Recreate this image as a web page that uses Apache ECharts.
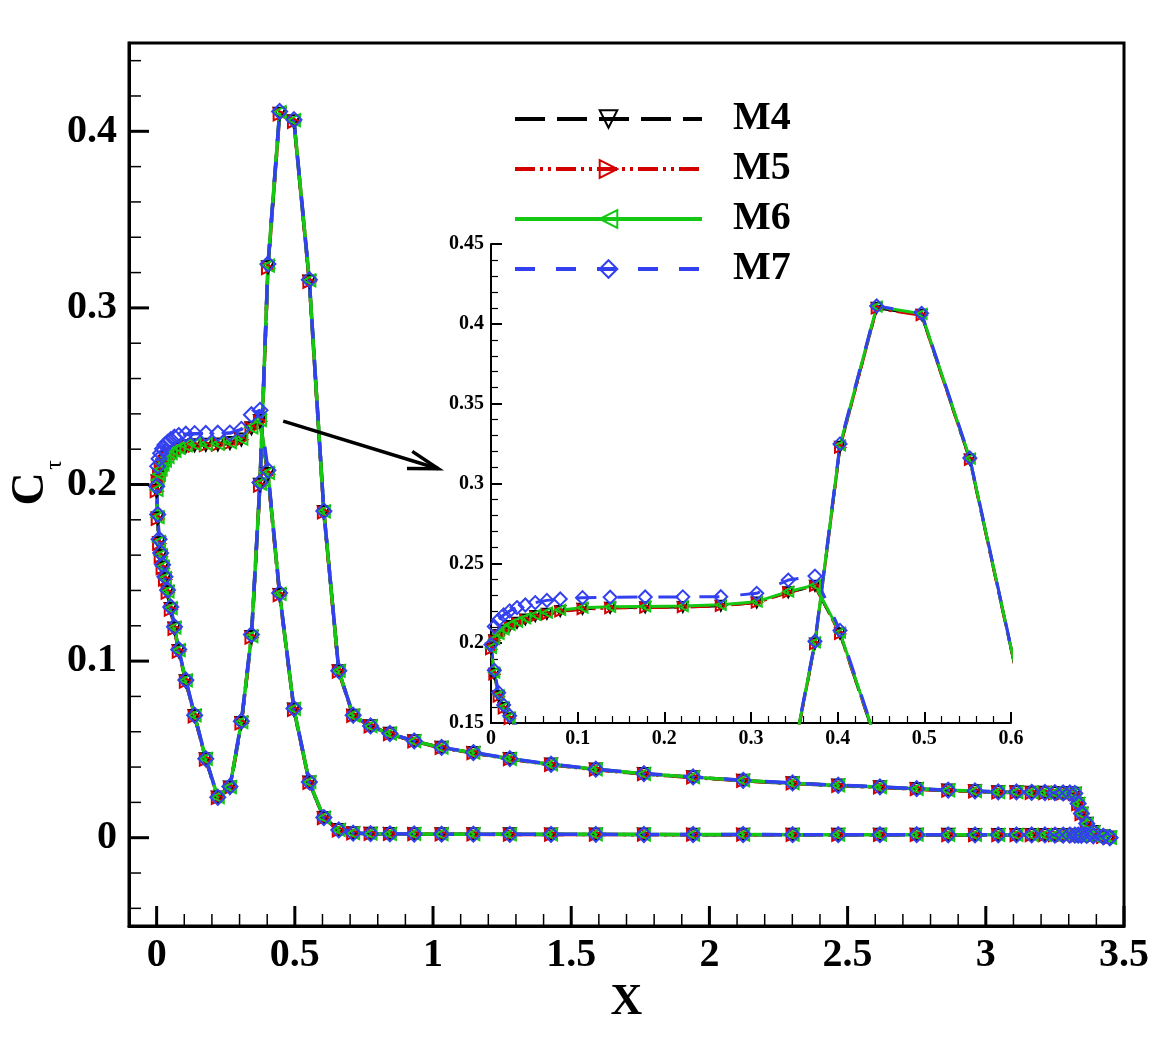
<!DOCTYPE html>
<html>
<head>
<meta charset="utf-8">
<title>C_tau vs X</title>
<script src="https://cdn.jsdelivr.net/npm/echarts@6/dist/echarts.min.js"></script>
<style>
  html, body { margin: 0; padding: 0; background: #fff; }
  #chart { width: 1171px; height: 1041px; }
</style>
</head>
<body>
<div id="chart"></div>
<script>
// stations along the surface (x), shared by both branches
const xStation = [0, 0.0038, 0.0088, 0.0146, 0.0215, 0.030, 0.0396, 0.0511, 0.0645, 0.0799, 0.1056, 0.1375, 0.1779, 0.2213, 0.2651, 0.3066, 0.343, 0.3738, 0.4027, 0.445, 0.4968, 0.5525, 0.605, 0.659, 0.711, 0.774, 0.844, 0.932, 1.031, 1.146, 1.278, 1.427, 1.589, 1.763, 1.941, 2.122, 2.301, 2.466, 2.617, 2.75, 2.864, 2.961, 3.045, 3.111, 3.166, 3.214, 3.25, 3.28, 3.304, 3.322, 3.334, 3.346, 3.365, 3.389, 3.425, 3.449]

// branch A: plateau, then falls to ~0
const m4A = [0.1965, 0.2018, 0.2051, 0.2080, 0.2107, 0.2128, 0.2149, 0.2170, 0.2184, 0.2201, 0.2216, 0.2222, 0.2225, 0.2227, 0.2235, 0.2255, 0.2319, 0.2359, 0.2060, 0.1375, 0.0726, 0.0312, 0.0112, 0.0043, 0.0025, 0.0022, 0.0021, 0.0020, 0.0020, 0.0019, 0.0019, 0.0018, 0.0018, 0.0018, 0.0017, 0.0017, 0.0017, 0.0016, 0.0016, 0.0016, 0.0016, 0.0015, 0.0015, 0.0015, 0.0015, 0.0015, 0.0015, 0.0014, 0.0014, 0.0014, 0.0014, 0.0013, 0.0012, 0.0010, 0.0006, 0.0]
const m5A = [0.1962, 0.2015, 0.2048, 0.2077, 0.2104, 0.2125, 0.2146, 0.2167, 0.2181, 0.2199, 0.2213, 0.2220, 0.2223, 0.2226, 0.2234, 0.2254, 0.2318, 0.2358, 0.2058, 0.1373, 0.0724, 0.0310, 0.0111, 0.0042, 0.0025, 0.0022, 0.0021, 0.0020, 0.0019, 0.0019, 0.0018, 0.0018, 0.0018, 0.0017, 0.0017, 0.0017, 0.0016, 0.0016, 0.0016, 0.0016, 0.0015, 0.0015, 0.0015, 0.0015, 0.0015, 0.0015, 0.0014, 0.0014, 0.0014, 0.0014, 0.0014, 0.0013, 0.0012, 0.0010, 0.0006, 0.0]
const m6A = [0.1970, 0.2025, 0.2058, 0.2087, 0.2114, 0.2135, 0.2156, 0.2177, 0.2191, 0.2208, 0.2222, 0.2228, 0.2230, 0.2232, 0.2240, 0.2260, 0.2323, 0.2364, 0.2066, 0.1380, 0.0730, 0.0315, 0.0114, 0.0044, 0.0026, 0.0023, 0.0022, 0.0021, 0.0020, 0.0020, 0.0019, 0.0019, 0.0019, 0.0018, 0.0018, 0.0018, 0.0017, 0.0017, 0.0017, 0.0017, 0.0016, 0.0016, 0.0016, 0.0016, 0.0016, 0.0016, 0.0015, 0.0015, 0.0015, 0.0015, 0.0015, 0.0014, 0.0013, 0.0011, 0.0007, 0.0]
const m7A = [0.1990, 0.2104, 0.2146, 0.2177, 0.2202, 0.2223, 0.2239, 0.2254, 0.2268, 0.2277, 0.2285, 0.2288, 0.2289, 0.2290, 0.2291, 0.2312, 0.2395, 0.2420, 0.2080, 0.1385, 0.0732, 0.0316, 0.0114, 0.0044, 0.0026, 0.0023, 0.0022, 0.0021, 0.0020, 0.0020, 0.0019, 0.0019, 0.0019, 0.0018, 0.0018, 0.0018, 0.0017, 0.0017, 0.0017, 0.0017, 0.0016, 0.0016, 0.0016, 0.0016, 0.0016, 0.0016, 0.0015, 0.0015, 0.0015, 0.0015, 0.0015, 0.0014, 0.0013, 0.0011, 0.0007, 0.0]

// branch B: dip, peak, long decay
const m4B = [0.1965, 0.1808, 0.1668, 0.1594, 0.1529, 0.1465, 0.1390, 0.1295, 0.1185, 0.1057, 0.0886, 0.0689, 0.0444, 0.0228, 0.0284, 0.0650, 0.1136, 0.1998, 0.3230, 0.4100, 0.4057, 0.3150, 0.1844, 0.0943, 0.0691, 0.0631, 0.0588, 0.0546, 0.0509, 0.0480, 0.0446, 0.0414, 0.0386, 0.0361, 0.0342, 0.0323, 0.0308, 0.0295, 0.0286, 0.0276, 0.0267, 0.0263, 0.0257, 0.0257, 0.0255, 0.0254, 0.0253, 0.0252, 0.0251, 0.0249, 0.0191, 0.0135, 0.0079, 0.0032, 0.0007, 0.0]
const m5B = [0.1962, 0.1805, 0.1665, 0.1591, 0.1526, 0.1462, 0.1387, 0.1292, 0.1182, 0.1054, 0.0884, 0.0687, 0.0442, 0.0226, 0.0282, 0.0647, 0.1133, 0.1994, 0.3225, 0.4096, 0.4054, 0.3148, 0.1842, 0.0941, 0.0690, 0.0630, 0.0587, 0.0545, 0.0508, 0.0479, 0.0445, 0.0413, 0.0385, 0.0360, 0.0341, 0.0322, 0.0307, 0.0294, 0.0285, 0.0275, 0.0266, 0.0262, 0.0256, 0.0256, 0.0254, 0.0253, 0.0252, 0.0251, 0.0250, 0.0248, 0.0190, 0.0134, 0.0078, 0.0031, 0.0006, 0.0]
const m6B = [0.1970, 0.1815, 0.1675, 0.1600, 0.1535, 0.1470, 0.1395, 0.1300, 0.1190, 0.1062, 0.0891, 0.0693, 0.0447, 0.0230, 0.0287, 0.0655, 0.1142, 0.2005, 0.3239, 0.4108, 0.4063, 0.3156, 0.1848, 0.0945, 0.0693, 0.0632, 0.0589, 0.0547, 0.0510, 0.0481, 0.0447, 0.0415, 0.0387, 0.0362, 0.0343, 0.0324, 0.0309, 0.0296, 0.0287, 0.0277, 0.0268, 0.0264, 0.0258, 0.0258, 0.0256, 0.0255, 0.0254, 0.0253, 0.0252, 0.0250, 0.0192, 0.0136, 0.0079, 0.0032, 0.0007, 0.0]
const m7B = [0.1990, 0.1830, 0.1690, 0.1612, 0.1545, 0.1478, 0.1402, 0.1306, 0.1195, 0.1066, 0.0893, 0.0694, 0.0447, 0.0229, 0.0290, 0.0660, 0.1150, 0.2012, 0.3248, 0.4112, 0.4066, 0.3160, 0.1850, 0.0946, 0.0694, 0.0633, 0.0590, 0.0548, 0.0511, 0.0482, 0.0448, 0.0416, 0.0388, 0.0363, 0.0344, 0.0325, 0.0310, 0.0297, 0.0288, 0.0278, 0.0269, 0.0265, 0.0259, 0.0259, 0.0257, 0.0256, 0.0255, 0.0254, 0.0253, 0.0251, 0.0193, 0.0137, 0.0080, 0.0033, 0.0007, 0.0]

// tick positions of the main plot
const xMajorTicks = [0, 0.5, 1, 1.5, 2, 2.5, 3, 3.5]
const xMinorTicks = [0.1, 0.2, 0.3, 0.4, 0.6, 0.7, 0.8, 0.9, 1.1, 1.2, 1.3, 1.4, 1.6, 1.7, 1.8, 1.9, 2.1, 2.2, 2.3, 2.4, 2.6, 2.7, 2.8, 2.9, 3.1, 3.2, 3.3, 3.4]
const yMajorTicks = [0, 0.1, 0.2, 0.3, 0.4]
const yMinorTicks = [-0.04, -0.02, 0.02, 0.04, 0.06, 0.08, 0.12, 0.14, 0.16, 0.18, 0.22, 0.24, 0.26, 0.28, 0.32, 0.34, 0.36, 0.38, 0.42, 0.44]

// arrow from the main plot into the zoom box
const arrowFrom = [0.458, 0.2359]
const arrowTo = [1.019, 0.2089]

const X_MIN = -0.1, X_MAX = 3.5, Y_MIN = -0.05, Y_MAX = 0.45
const FONT = 'Liberation Serif'

// TE -> branch A -> LE -> branch B -> TE
const makeLoop = (a, b) => {
    const pts = []
    for (let i = xStation.length - 1; i >= 0; i--) pts.push([xStation[i], a[i]])
    for (let i = 1; i < xStation.length; i++) pts.push([xStation[i], b[i]])
    return pts
}

const models = [
    { name: 'M4', a: m4A, b: m4B, color: '#000000', dash: [30, 12], symbol: 'triangle', rotate: 180, size: 12 },
    { name: 'M5', a: m5A, b: m5B, color: '#d40000', dash: [20, 5, 3, 5, 3, 5], symbol: 'triangle', rotate: -90, size: 12 },
    { name: 'M6', a: m6A, b: m6B, color: '#14c814', dash: 'solid', symbol: 'triangle', rotate: 90, size: 12 },
    { name: 'M7', a: m7A, b: m7B, color: '#3340f0', dash: [20, 21], symbol: 'diamond', rotate: 0, size: 15 }
]

const series = []
models.forEach((m) => {
    const base = {
        name: m.name,
        type: 'line',
        data: makeLoop(m.a, m.b),
        symbol: m.symbol,
        symbolRotate: m.rotate,
        showAllSymbol: true,
        lineStyle: { color: m.color, width: 3.5, type: m.dash },
        itemStyle: { color: 'rgba(0,0,0,0)', borderColor: m.color, borderWidth: 2 },
        emphasis: { disabled: true },
        animation: false
    }
    // main plot
    series.push(Object.assign({}, base, { xAxisIndex: 0, yAxisIndex: 0, symbolSize: m.size }))
    // zoom box
    series.push(Object.assign({}, base, {
        xAxisIndex: 1, yAxisIndex: 1, symbolSize: m.size - 2,
        lineStyle: { color: m.color, width: 3, type: m.dash }
    }))
})

// arrow with open head
series.push({
    type: 'custom',
    xAxisIndex: 0,
    yAxisIndex: 0,
    data: [[arrowFrom[0], arrowFrom[1]]],
    silent: true,
    clip: false,
    animation: false,
    z: 5,
    renderItem: (params, api) => {
        const p0 = api.coord(arrowFrom)
        const p1 = api.coord(arrowTo)
        const dx = p1[0] - p0[0], dy = p1[1] - p0[1]
        const l = Math.sqrt(dx * dx + dy * dy)
        const ux = dx / l, uy = dy / l
        const bx = p1[0] - 30 * ux, by = p1[1] - 30 * uy
        const style = { stroke: '#000', lineWidth: 3.5, fill: null }
        return {
            type: 'group',
            children: [
                { type: 'line', shape: { x1: p0[0], y1: p0[1], x2: p1[0], y2: p1[1] }, style: style },
                {
                    type: 'polyline',
                    shape: { points: [[bx - 9 * uy, by + 9 * ux], [p1[0], p1[1]], [bx + 9 * uy, by - 9 * ux]] },
                    style: style
                }
            ]
        }
    }
})

const bigLabel = { fontFamily: FONT, fontWeight: 'bold', fontSize: 40, color: '#000' }
const smallLabel = { fontFamily: FONT, fontWeight: 'bold', fontSize: 20, color: '#000' }

// rotated axis title C_tau
const titleGraphics = [
    {
        type: 'text', x: 31, y: 489, rotation: Math.PI / 2,
        style: { text: 'C', fontFamily: FONT, fontWeight: 'bold', fontSize: 46, fill: '#000', align: 'center', verticalAlign: 'middle' }
    },
    {
        type: 'text', x: 55, y: 465, rotation: Math.PI / 2,
        style: { text: 'τ', fontFamily: FONT, fontSize: 24, fill: '#000', align: 'center', verticalAlign: 'middle' }
    }
]

const option = {
    backgroundColor: '#fff',
    animation: false,
    grid: [
        { left: 129, right: 47, top: 43, bottom: 115, show: true, borderColor: '#000', borderWidth: 3, backgroundColor: 'transparent' },
        { left: 491, right: 160, top: 244, bottom: 318 }
    ],
    legend: {
        orient: 'vertical',
        left: 508,
        top: 94,
        itemWidth: 187,
        itemHeight: 22,
        itemGap: 10,
        selectedMode: false,
        data: ['M4', 'M5', 'M6', 'M7'],
        lineStyle: { width: 4 },
        textStyle: Object.assign({}, bigLabel, { lineHeight: 40, padding: [0, 0, 0, 26] })
    },
    xAxis: [
        {
            type: 'value', gridIndex: 0, position: 'bottom', min: X_MIN, max: X_MAX,
            axisLine: { show: true, onZero: false, lineStyle: { color: '#000', width: 3 } },
            axisTick: { show: false },
            axisLabel: Object.assign({ customValues: xMajorTicks, margin: 10 }, bigLabel),
            splitLine: { show: false },
            name: 'X', nameLocation: 'middle', nameGap: 34,
            nameTextStyle: { fontFamily: FONT, fontWeight: 'bold', fontSize: 44, color: '#000' }
        },
        {
            type: 'value', gridIndex: 1, position: 'bottom', min: 0, max: 0.6, interval: 0.1,
            axisLine: { show: true, onZero: false, lineStyle: { color: '#000', width: 2 } },
            axisTick: { show: true, inside: true, length: 11, lineStyle: { color: '#000', width: 2 } },
            minorTick: { show: true, splitNumber: 5, length: 7, lineStyle: { color: '#000', width: 1.2 } },
            axisLabel: Object.assign({ margin: 6 }, smallLabel),
            splitLine: { show: false }
        }
    ],
    yAxis: [
        {
            type: 'value', gridIndex: 0, position: 'left', min: Y_MIN, max: Y_MAX,
            axisLine: { show: true, onZero: false, lineStyle: { color: '#000', width: 3 } },
            axisTick: { show: false },
            axisLabel: Object.assign({ customValues: yMajorTicks, margin: 12 }, bigLabel),
            splitLine: { show: false }
        },
        {
            type: 'value', gridIndex: 1, position: 'left', min: 0.15, max: 0.45, interval: 0.05,
            axisLine: { show: true, onZero: false, lineStyle: { color: '#000', width: 2 } },
            axisTick: { show: true, inside: true, length: 11, lineStyle: { color: '#000', width: 2 } },
            minorTick: { show: true, splitNumber: 5, length: 7, lineStyle: { color: '#000', width: 1.2 } },
            axisLabel: Object.assign({ margin: 7 }, smallLabel),
            splitLine: { show: false }
        }
    ],
    graphic: titleGraphics,
    series: series
}

const myChart = echarts.init(document.getElementById('chart'))
myChart.setOption(option)

// inside ticks of the main frame, placed with the main grid's scales
const toPx = (pt) => myChart.convertToPixel({ gridIndex: 0 }, pt)
const tickRects = []
const addTicks = (values, vertical, len, w) => {
    values.forEach(v => {
        const p = vertical ? toPx([v, Y_MIN]) : toPx([X_MIN, v])
        const shape = vertical
            ? { x: p[0] - w / 2, y: p[1] - len, width: w, height: len }
            : { x: p[0], y: p[1] - w / 2, width: len, height: w }
        tickRects.push({ type: 'rect', shape: shape, style: { fill: '#000' }, z: 100, zlevel: 1, silent: true })
    })
}
addTicks(xMajorTicks, true, 20, 3)
addTicks(xMinorTicks, true, 12, 1.5)
addTicks(yMajorTicks, false, 20, 3)
addTicks(yMinorTicks, false, 12, 1.5)

myChart.setOption({ graphic: titleGraphics.concat(tickRects) })
</script>
</body>
</html>
